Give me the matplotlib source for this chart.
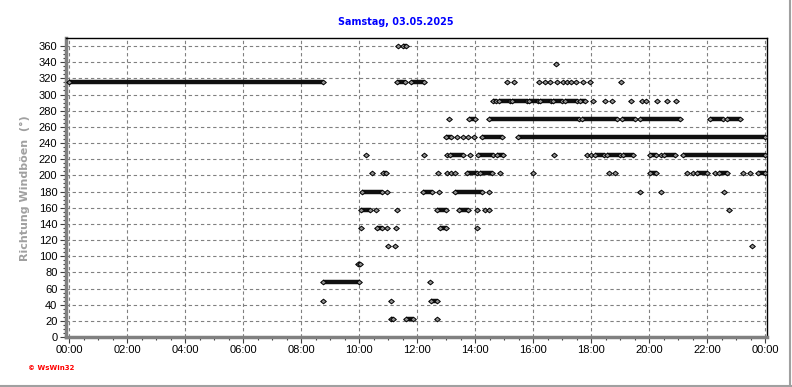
import matplotlib
matplotlib.use("Agg")
import matplotlib.pyplot as plt
from matplotlib.lines import Line2D
import numpy as np

# wind gust direction levels (degrees)
levels = [360, 337.5, 315, 292.5, 270, 247.5, 225, 202.5, 180,
          157.5, 135, 112.5, 90, 67.5, 45, 22.5]

# observations per direction: (start_hour, end_hour); start == end is a single reading
w360 = [(11.32, 11.32), (11.50, 11.60)]
w337 = [(16.78, 16.78)]
w315 = [(0.0, 8.76), (11.29, 11.58), (11.78, 12.23), (15.09, 15.09), (15.33, 15.33),
        (16.20, 16.20), (16.40, 16.40), (16.58, 16.58), (16.82, 16.82), (17.03, 17.03),
        (17.15, 17.15), (17.30, 17.30), (17.47, 17.47), (17.71, 17.71), (17.95, 17.95),
        (19.02, 19.02)]
w292 = [(14.60, 14.72), (14.82, 15.20), (15.28, 15.78), (15.85, 16.15), (16.22, 16.62),
        (16.70, 17.00), (17.08, 17.52), (17.60, 17.78), (18.07, 18.07), (18.47, 18.47),
        (18.72, 18.72), (19.39, 19.39), (19.75, 19.75), (19.90, 19.90), (20.26, 20.26),
        (20.60, 20.60), (20.92, 20.92)]
w270 = [(13.10, 13.10), (13.80, 13.98), (14.47, 17.58), (17.70, 18.88), (19.05, 19.50),
        (19.68, 21.06), (22.09, 22.55), (22.70, 23.13)]
w247 = [(12.98, 13.15), (13.38, 13.38), (13.57, 13.57), (13.74, 13.74), (13.96, 13.96),
        (14.22, 14.91), (15.47, 24.0)]
w225 = [(10.24, 10.24), (12.23, 12.23), (13.01, 13.01), (13.13, 13.58), (13.82, 13.82),
        (14.10, 14.61), (14.75, 14.96), (16.72, 16.72), (17.85, 17.85), (18.00, 18.00),
        (18.12, 18.45), (18.55, 18.98), (19.10, 19.44), (20.02, 20.25), (20.40, 20.40),
        (20.52, 20.88), (21.16, 24.0)]
w202 = [(10.45, 10.45), (10.83, 10.92), (12.72, 12.72), (13.01, 13.01), (13.16, 13.16),
        (13.31, 13.31), (13.71, 14.05), (14.15, 14.57), (14.85, 14.85), (16.00, 16.00),
        (18.61, 18.61), (18.82, 18.82), (20.02, 20.25), (21.29, 21.29), (21.50, 21.50),
        (21.65, 21.98), (22.27, 22.27), (22.42, 22.67), (23.24, 23.24), (23.47, 23.47),
        (23.75, 24.0)]
w180 = [(10.08, 10.78), (10.97, 10.97), (12.20, 12.50), (12.76, 12.76), (13.30, 14.22),
        (14.48, 14.48), (19.68, 19.68), (20.40, 20.40), (22.59, 22.59)]
w157 = [(10.06, 10.37), (10.57, 10.57), (11.31, 11.31), (12.67, 12.98), (13.45, 13.76),
        (14.07, 14.07), (14.33, 14.33), (14.48, 14.48), (22.76, 22.76)]
w135 = [(10.06, 10.06), (10.62, 10.77), (10.97, 10.97), (11.27, 11.27), (12.78, 13.00),
        (14.07, 14.07)]
w112 = [(11.00, 11.00), (11.23, 11.23), (23.53, 23.53)]
w90 = [(9.97, 10.02)]
w67 = [(8.76, 10.00), (12.45, 12.45)]
w45 = [(8.76, 8.76), (11.08, 11.08), (12.47, 12.67)]
w22 = [(11.10, 11.16), (11.61, 11.84), (12.68, 12.68)]

series = [w360, w337, w315, w292, w270, w247, w225, w202, w180,
          w157, w135, w112, w90, w67, w45, w22]

xticks = np.arange(0, 25, 2)
xticklabels = ["00:00", "02:00", "04:00", "06:00", "08:00", "10:00", "12:00",
               "14:00", "16:00", "18:00", "20:00", "22:00", "00:00"]
yticks = np.arange(0, 361, 20)

fig = plt.figure(figsize=(7.92, 3.87), dpi=100)
ax = fig.add_axes([0.083, 0.129, 0.886, 0.772])

diamond = [(-1, 0), (0, 0.82), (1, 0), (0, -0.82), (-1, 0)]

for lev, obs in zip(levels, series):
    for s, e in obs:
        if e > s:
            ax.hlines(lev, s, e, color="#101010", lw=3.2, capstyle="butt", zorder=3)
            ax.plot([s, e], [lev, lev], linestyle="none", marker=diamond, ms=4.1,
                    mfc="#909090", mec="black", mew=0.7, zorder=4)
        else:
            ax.plot([s], [lev], linestyle="none", marker=diamond, ms=4.1,
                    mfc="#909090", mec="black", mew=0.7, zorder=4)

ax.set_xlim(-0.124, 24.08)
ax.set_ylim(0, 369.5)
ax.set_xticks(xticks)
ax.set_xticklabels(xticklabels)
ax.set_xticks(np.arange(0, 24.01, 0.5), minor=True)
ax.set_yticks(yticks)
ax.set_yticks(np.arange(0, 361, 5), minor=True)

ax.grid(True, which="major", linestyle=(0, (3, 2.5)), color="#808080", lw=0.8)
ax.set_axisbelow(True)

for side in ["left", "bottom"]:
    ax.spines[side].set_color("#808080")
    ax.spines[side].set_linewidth(2.5)
for side in ["top", "right"]:
    ax.spines[side].set_color("black")
    ax.spines[side].set_linewidth(1)

ax.tick_params(which="major", direction="out", length=4, width=0.8, color="#404040",
               labelsize=8, pad=2)
ax.tick_params(which="minor", direction="out", length=2.2, width=0.8, color="#404040")
for lab in ax.get_xticklabels() + ax.get_yticklabels():
    lab.set_family("Liberation Sans")

ax.set_ylabel("Richtung Windböen  (°)", color="#a0a0a0", fontsize=8,
              fontweight="bold", labelpad=6)

fig.text(0.5, 0.943, "Samstag, 03.05.2025", color="#0000ff", fontsize=6.9,
         fontweight="bold", ha="center", va="center")
fig.text(0.035, 0.049, "© WsWin32", color="red", fontsize=5, fontweight="bold",
         ha="left", va="center")

# frame lines at bottom and right edge
fig.add_artist(Line2D([0, 1], [0.002, 0.002], transform=fig.transFigure,
                      color="#a0a0a0", lw=1.5))
fig.add_artist(Line2D([0.998, 0.998], [0, 1], transform=fig.transFigure,
                      color="#a0a0a0", lw=1.5))

fig.savefig("out.png", dpi=100)
